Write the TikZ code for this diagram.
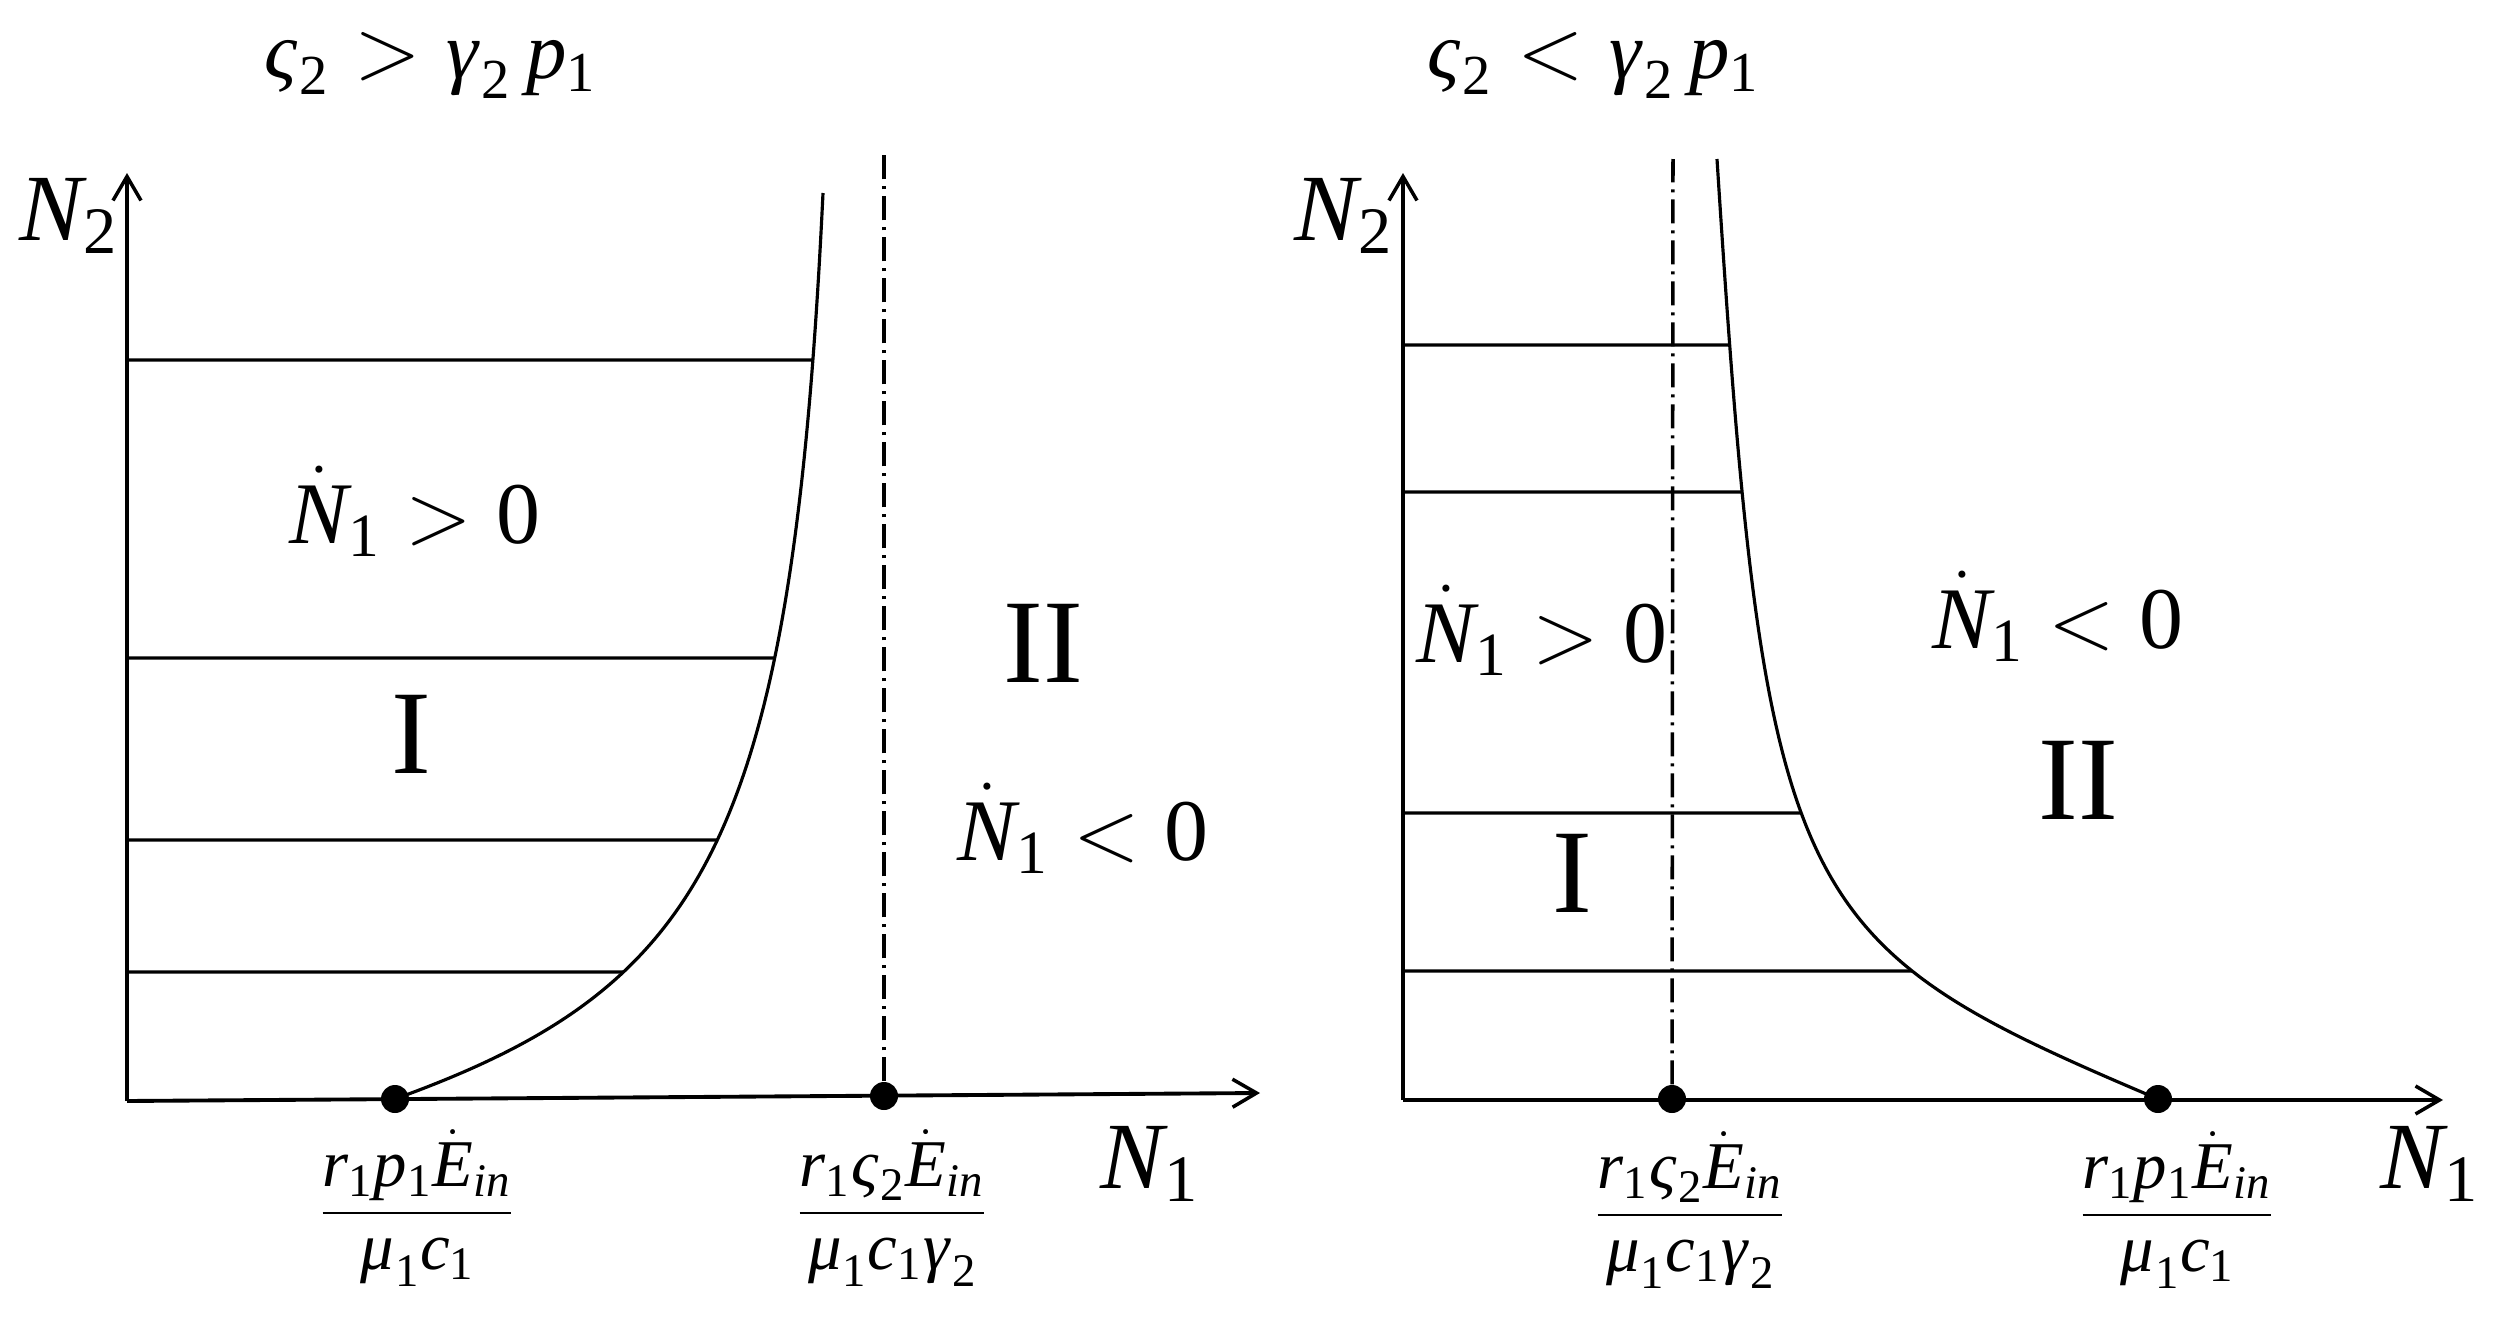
\documentclass[tikz,border=0pt]{standalone}
\usepackage{amsmath}
\usepackage{mathspec}
\setmainfont{Liberation Serif}
\setmathsfont(Digits,Latin,Greek){Liberation Serif}
\usetikzlibrary{arrows.meta,intersections}
\begin{document}
\begin{tikzpicture}[x=0.1mm,y=-0.1mm,
  axisline/.style={line width=1.1pt,-{Straight Barb[length=2.4mm,width=2.8mm,line width=1pt]}},
  hline/.style={line width=0.9pt},
  curveline/.style={line width=0.9pt},
  dashdotline/.style={line width=1pt,dash pattern=on 2.4mm off 0.7mm on 0.3mm off 0.7mm},
  dotnode/.style={circle,fill=black,inner sep=0pt,minimum size=2.8mm},
  lab/.style={inner sep=0pt,anchor=base,font=\fontsize{25}{30}\selectfont},
  toplab/.style={inner sep=0pt,anchor=base,font=\fontsize{23}{28}\selectfont},
  roman/.style={inner sep=0pt,font=\fontsize{34}{40}\selectfont},
  axlab/.style={inner sep=0pt,anchor=base,font=\fontsize{27}{32}\selectfont},
  fraclab/.style={inner sep=0pt,anchor=base,font=\fontsize{19}{23}\selectfont},
]
\useasboundingbox (0,0) rectangle (2496,1318);

% ---------- left panel ----------
\coordinate (LO) at (127,1101);
\coordinate (LYt) at (127,173);
\coordinate (LXt) at (1260,1093);
\draw[axisline] (LO) -- (LYt);
\draw[axisline] (LO) -- (LXt);

\node[dotnode] (LA) at (395,1099) {};
\node[dotnode] (LB) at (884,1096) {};
\coordinate (LBt) at (884,155);
\draw[dashdotline] (LB) -- (LBt);

\coordinate (LCtop) at (823,193);
\draw[curveline,name path=lcurve] (LA.center) .. controls (705,987) and (792,843) .. (LCtop);

\foreach \yy [count=\i] in {360,658,840,972}{
  \path[name path=lh\i] (127,\yy) -- (900,\yy);
  \draw[hline,name intersections={of=lcurve and lh\i,by=Li\i}] (127,\yy) -- (Li\i);
}

\node[toplab] (Ltop) at (430,78) {$\varsigma_2 > \gamma_2\, p_1$};
\node[axlab] (LN2) at (69,240) {$N_2$};
\node[axlab] (LN1) at (1150,1188) {$N_1$};
\node[lab] (Lpos) at (415,543) {$\dot{N}_1 > 0$};
\node[lab] (Lneg) at (1083,860) {$\dot{N}_1 < 0$};
\node[roman] (LI) at (411,734) {I};
\node[roman] (LII) at (1043,643) {II};
\node[fraclab] (LfA) at (417,1228) {$\displaystyle\frac{r_1 p_1 \dot{E}_{in}}{\mu_1 c_1}$};
\node[fraclab] (LfB) at (892,1228) {$\displaystyle\frac{r_1 \varsigma_2 \dot{E}_{in}}{\mu_1 c_1 \gamma_2}$};

% ---------- right panel ----------
\coordinate (RO) at (1403,1100);
\coordinate (RYt) at (1403,173);
\coordinate (RXt) at (2443,1100);
\draw[axisline] (RO) -- (RYt);
\draw[axisline] (RO) -- (RXt);

\node[dotnode] (RA) at (1672,1099) {};
\node[dotnode] (RB) at (2158,1099) {};
\coordinate (RAt) at (1673,159);
\draw[dashdotline] (RA) -- (RAt);

\coordinate (RCtop) at (1717,159);
\draw[curveline,name path=rcurve] (RB.center) .. controls (1790,943) and (1765,909) .. (RCtop);

\foreach \yy [count=\i] in {345,492,813,971}{
  \path[name path=rh\i] (1403,\yy) -- (2300,\yy);
  \draw[hline,name intersections={of=rcurve and rh\i,by=Ri\i}] (1403,\yy) -- (Ri\i);
}

\node[toplab] (Rtop) at (1593,78) {$\varsigma_2 < \gamma_2\, p_1$};
\node[axlab] (RN2) at (1344,240) {$N_2$};
\node[axlab] (RN1) at (2430,1188) {$N_1$};
\node[lab] (Rpos) at (1542,662) {$\dot{N}_1 > 0$};
\node[lab] (Rneg) at (2058,648) {$\dot{N}_1 < 0$};
\node[roman] (RI) at (1572,873) {I};
\node[roman] (RII) at (2078,780) {II};
\node[fraclab] (RfA) at (1690,1230) {$\displaystyle\frac{r_1 \varsigma_2 \dot{E}_{in}}{\mu_1 c_1 \gamma_2}$};
\node[fraclab] (RfB) at (2177,1230) {$\displaystyle\frac{r_1 p_1 \dot{E}_{in}}{\mu_1 c_1}$};
\end{tikzpicture}
\end{document}
